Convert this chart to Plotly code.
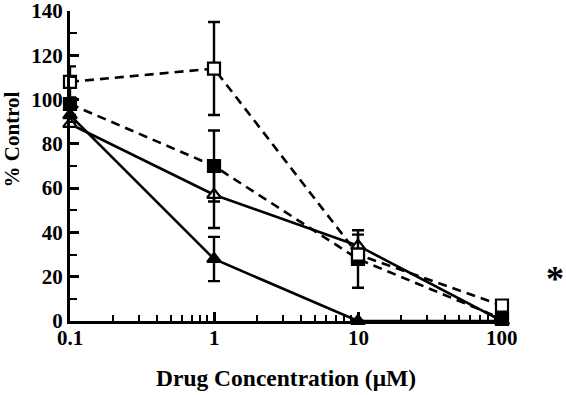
import math
import plotly.graph_objects as go

conc = [0.1, 1, 10, 100]

open_sq = [108, 114, 30, 7]
open_sq_err = [7, 21, 0, 0]
filled_sq = [98, 70, 28, 1]
filled_sq_err = [2, 16, 13, 0]
open_tri = [89, 57, 34, 0]
open_tri_err = [0, 15, 5, 0]
filled_tri_x = [0.1, 1, 10, 100]
filled_tri = [93, 28, 0, 0]
filled_tri_err = [0, 10, 0, 0]

xtick_vals = [0.1, 1, 10, 100]
xtick_text = ["0.1", "1", "10", "100"]
xminor_vals = [m * 10.0 ** e for e in (-1, 0, 1) for m in range(2, 10)]

FONT = "Liberation Serif"
LW = 2.6
W, H = 566, 395
ML, MR, MT, MB = 70, 64, 11, 74
PW = W - ML - MR
PH = H - MT - MB

fig = go.Figure()

def add(x, y, err, symbol, fill, dash):
    fig.add_trace(go.Scatter(
        x=x, y=y, mode="lines+markers",
        line=dict(color="black", width=LW, dash=dash),
        marker=dict(symbol=symbol, size=12, color=fill,
                    line=dict(color="black", width=2.2)),
        error_y=dict(type="data", array=err, visible=True,
                     color="black", thickness=2.4, width=6),
        cliponaxis=False, showlegend=False, hoverinfo="skip"))

add(conc, open_tri, open_tri_err, "triangle-up", "white", "solid")
add(filled_tri_x, filled_tri, filled_tri_err, "triangle-up", "black", "solid")
add(conc, filled_sq, filled_sq_err, "square", "black", "9px,6px")
add(conc, open_sq, open_sq_err, "square", "white", "9px,6px")

# invisible trace on the minor-tick axis
fig.add_trace(go.Scatter(x=[0.1, 100], y=[None, None], xaxis="x2",
                         showlegend=False, hoverinfo="skip"))

# x tick labels placed closer to the axis line
for v, t in zip(xtick_vals, xtick_text):
    fig.add_annotation(x=math.log10(v), y=-(338 - (H - MB)) / PH,
                       xref="x", yref="paper", xanchor="center", yanchor="middle",
                       text=f"<b>{t}</b>", showarrow=False,
                       font=dict(family=FONT, size=21, color="black"))

fig.add_annotation(x=1 + (W - ML - PW) / PW, y=19, xref="paper", yref="y",
                   xanchor="right", yanchor="middle", text="<b>*</b>",
                   showarrow=False,
                   font=dict(family=FONT, size=36, color="black"))
fig.add_annotation(x=-58 / PW, y=82, xref="paper", yref="y",
                   xanchor="center", yanchor="middle",
                   text="<b>% Control</b>", textangle=-90, showarrow=False,
                   font=dict(family=FONT, size=21, color="black"))
fig.add_annotation(x=0.5, y=-(378 - (H - MB)) / PH, xref="paper", yref="paper",
                   xanchor="center", yanchor="middle", showarrow=False,
                   text="<b>Drug Concentration (μM)</b>",
                   font=dict(family=FONT, size=23.5, color="black"))

fig.update_layout(
    width=W, height=H,
    margin=dict(l=ML, r=MR, t=MT, b=MB),
    paper_bgcolor="white", plot_bgcolor="white",
    font=dict(family=FONT, color="black", size=21),
    hovermode=False,
    xaxis2=dict(type="log", range=[-1, 2], overlaying="x", anchor="y", side="bottom",
                tickvals=xminor_vals, ticks="inside", ticklen=6, tickwidth=2,
                tickcolor="black", showticklabels=False, showline=False,
                showgrid=False, zeroline=False, automargin=False),
    xaxis=dict(
        type="log", range=[-1, 2], automargin=False,
        tickvals=xtick_vals, showticklabels=False,
        ticks="inside", ticklen=9, tickwidth=2.5, tickcolor="black",
        showline=True, linecolor="black", linewidth=3,
        showgrid=False, zeroline=False,
    ),
    yaxis=dict(
        range=[0, 140], dtick=20, tickformat="d", automargin=False,
        ticks="inside", ticklen=9, tickwidth=2.5, tickcolor="black",
        showline=True, linecolor="black", linewidth=3,
        showgrid=False, zeroline=False,
        minor=dict(dtick=10, ticks="inside", ticklen=7, tickwidth=2,
                   tickcolor="black", showgrid=False),
        tickprefix="<b>", ticksuffix="</b>",
        tickfont=dict(family=FONT, size=21),
        ticklabeloverflow="allow",
    ),
)

fig.write_html("out.html", config={"displayModeBar": False})

with open("out.html", "r", encoding="utf-8") as f:
    html = f.read()
html = html.replace("<head>", "<head><style>html,body{margin:0;padding:0;}</style>", 1)
with open("out.html", "w", encoding="utf-8") as f:
    f.write(html)
